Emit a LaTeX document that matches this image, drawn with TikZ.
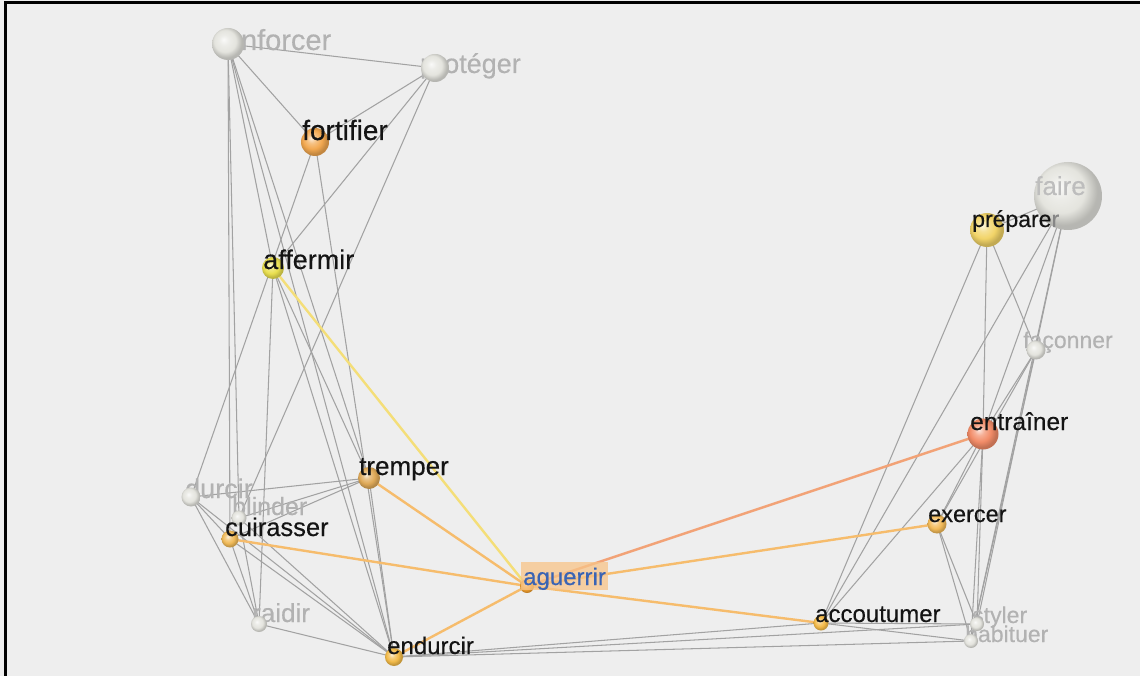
\documentclass[tikz,border=0pt]{standalone}
\usepackage{fontspec}
\setmainfont[FakeBold=0.35]{Liberation Sans}
\pgfdeclarelayer{edges}
\pgfdeclarelayer{glab}
\pgfdeclarelayer{blab}
\pgfsetlayers{edges,glab,main,blab}
\definecolor{bgc}{HTML}{EEEEEE}
\definecolor{edgegray}{HTML}{A2A2A2}
\definecolor{edgeor}{HTML}{F6BC6C}
\definecolor{edgeyel}{HTML}{F4DE78}
\definecolor{edgesal}{HTML}{F2A276}
\definecolor{labgray}{HTML}{B2B2B2}
\definecolor{labblack}{HTML}{141414}
\definecolor{labblue}{HTML}{3A64B4}
\definecolor{aguebg}{HTML}{F8C488}
\definecolor{wball}{HTML}{E4E4DE}
\definecolor{cfor}{HTML}{F2A850}
\definecolor{caff}{HTML}{EAE050}
\definecolor{ctre}{HTML}{E0AA58}
\definecolor{ccui}{HTML}{F0BA58}
\definecolor{cend}{HTML}{F2BA48}
\definecolor{cagu}{HTML}{F2A030}
\definecolor{cacc}{HTML}{F4BA48}
\definecolor{cexe}{HTML}{F2BA58}
\definecolor{cent}{HTML}{F28C68}
\definecolor{cpre}{HTML}{F2D468}
\colorlet{ballc}{white}
\pgfdeclareradialshading[ballc]{softball}{\pgfpoint{-7bp}{7bp}}{%
  color(0bp)=(ballc!20!white); color(8bp)=(ballc!70!white); color(17bp)=(ballc);
  color(25bp)=(ballc!80!black); color(50bp)=(ballc!80!black)}
\tikzset{
  ball/.style={circle, inner sep=0pt, /utils/exec={\colorlet{ballc}{#1}}, shading=softball},
  gedge/.style={draw=edgegray, line width=1.05pt},
  oedge/.style={draw=edgeor, line width=2.4pt},
  glabel/.style={anchor=base west, inner sep=0pt, text=labgray},
  blabel/.style={anchor=base west, inner sep=0pt, text=labblack},
  fs/.style={font=\fontsize{#1}{#1}\selectfont}
}
\begin{document}
\begin{tikzpicture}[x=1pt,y=-1pt]
\useasboundingbox (0,0) rectangle (1140,676);
% spheres
\node[ball=wball, minimum size=32] (ren) at (228,44) {};
\node[ball=wball, minimum size=28] (pro) at (435,68) {};
\node[ball=cfor, minimum size=28] (for) at (315,142) {};
\node[ball=caff, minimum size=22] (aff) at (273,268) {};
\node[ball=ctre, minimum size=22] (tre) at (369,478) {};
\node[ball=wball, minimum size=19] (dur) at (191,497) {};
\node[ball=wball, minimum size=15] (bli) at (239,518) {};
\node[ball=ccui, minimum size=17] (cui) at (230,539) {};
\node[ball=wball, minimum size=16] (rai) at (259,624) {};
\node[ball=cend, minimum size=18] (end) at (394,657) {};
\node[ball=cagu, minimum size=14] (agu) at (527,586) {};
\node[ball=cacc, minimum size=15] (acc) at (821,623) {};
\node[ball=cexe, minimum size=19] (exe) at (937,524) {};
\node[ball=cent, minimum size=31] (ent) at (983,434) {};
\node[ball=wball, minimum size=19] (fac) at (1036,350) {};
\node[ball=cpre, minimum size=34] (pre) at (987,230) {};
\node[ball=wball, minimum size=68] (fai) at (1068,196) {};
\node[ball=wball, minimum size=14] (sty) at (977,624) {};
\node[ball=wball, minimum size=14] (hab) at (971,641) {};
\begin{pgfonlayer}{edges}
\fill[bgc] (0,0) rectangle (1140,676);
\draw[line width=3pt] (5,676) -- (5,3) -- (1140,3);
\foreach \a/\b in {ren/pro, ren/for, ren/aff, ren/tre, ren/cui, ren/bli, ren/end,
  pro/for, pro/aff, pro/bli, for/dur, for/end,
  aff/rai, aff/tre, aff/end,
  dur/tre, bli/tre, cui/tre, dur/cui, dur/rai, dur/end, cui/rai, cui/end, bli/rai, bli/end, rai/end, tre/end,
  end/acc, end/sty, end/hab,
  fai/pre, fai/acc, fai/ent, fai/sty, fai/hab, pre/acc, pre/ent, pre/fac,
  fac/ent, fac/exe, fac/hab, ent/acc, ent/exe, ent/sty, ent/hab,
  exe/sty, exe/hab, acc/sty, acc/hab}
  \draw[gedge] (\a.center) -- (\b.center);
\foreach \b in {tre, cui, end, exe, acc}
  \draw[oedge] (agu.center) -- (\b.center);
\draw[oedge, draw=edgeyel] (agu.center) -- (aff.center);
\draw[oedge, draw=edgesal] (agu.center) -- (ent.center);
\end{pgfonlayer}
% gray labels (behind spheres)
\begin{pgfonlayer}{glab}
\node[glabel, fs=29] (lren) at (215,50) {renforcer};
\node[glabel, fs=27] (lpro) at (420,73) {protéger};
\node[glabel, fs=27] (ldur) at (185,498) {durcir};
\node[glabel, fs=25] (lbli) at (232,515) {blinder};
\node[glabel, fs=26] (lrai) at (252,622) {raidir};
\node[glabel, fs=23] (lfac) at (1023,348) {façonner};
\node[glabel, fs=23] (lsty) at (972,623) {styler};
\node[glabel, fs=23] (lhab) at (965,642) {habituer};
\end{pgfonlayer}
% labels in front
\begin{pgfonlayer}{blab}
\node[glabel, fs=26, text=labgray!85!white] (lfai) at (1035,195) {faire};
\node[blabel, fs=28] (lfor) at (302,140) {fortifier};
\node[blabel, fs=27] (laff) at (263,269) {affermir};
\node[blabel, fs=26] (ltre) at (359,475) {tremper};
\node[blabel, fs=25.5] (lcui) at (225,536) {cuirasser};
\node[blabel, fs=24] (lend) at (387,654) {endurcir};
\node[anchor=base west, inner xsep=2pt, inner ysep=0pt, text height=23pt, text depth=5pt,
      fill=aguebg, fill opacity=0.75, text opacity=1, text=labblue, fs=24] (lagu) at (521,585) {aguerrir};
\node[blabel, fs=24] (lacc) at (815,622) {accoutumer};
\node[blabel, fs=23.5] (lexe) at (928,522) {exercer};
\node[blabel, fs=24.5] (lent) at (970,430) {entraîner};
\node[blabel, fs=23] (lpre) at (972,227) {prépare\textcolor{labgray!75!black}{r}};
\end{pgfonlayer}
\end{tikzpicture}
\end{document}
